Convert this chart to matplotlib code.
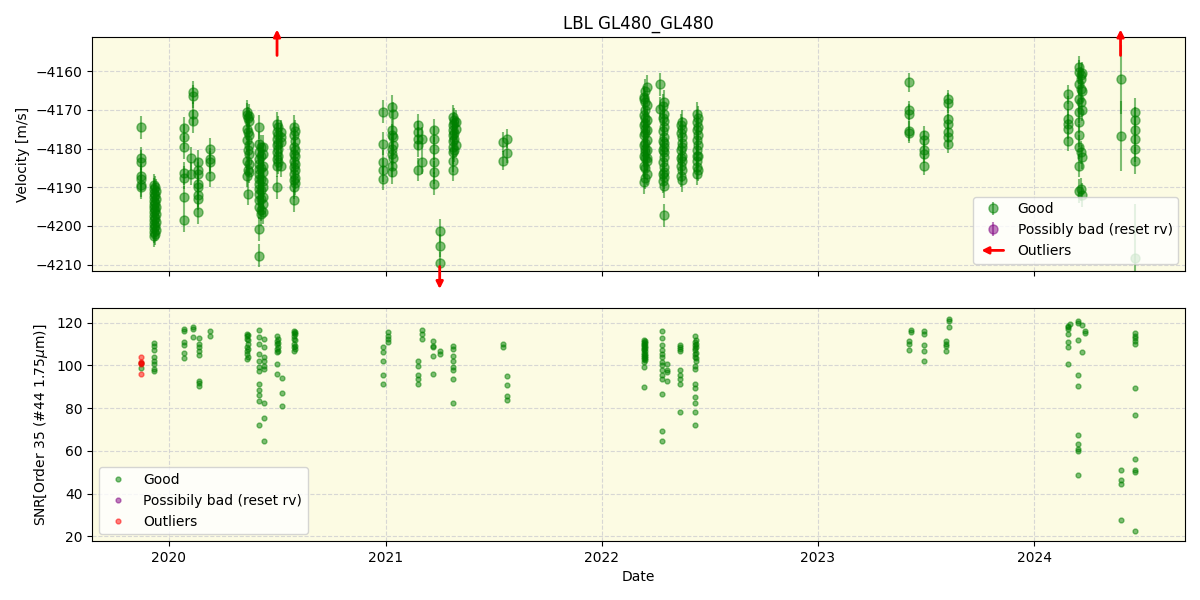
from datetime import datetime, timedelta
import matplotlib
matplotlib.use('Agg')
import matplotlib.pyplot as plt
import matplotlib.dates as mdates
from matplotlib.legend_handler import HandlerBase
from matplotlib.patches import FancyArrowPatch

# --- velocity data: one entry per group of nights (decimal year) ---
rv_epochs = [2019.87, 2019.93, 2019.94, 2019.935, 2020.07, 2020.10, 2020.11, 2020.135, 2020.19,
             2020.36, 2020.365, 2020.37, 2020.415, 2020.435, 2020.425, 2020.50, 2020.52, 2020.505,
             2020.58, 2020.585,
             2020.99, 2021.03, 2021.035, 2021.15, 2021.17, 2021.225, 2021.25, 2021.31, 2021.325,
             2021.315, 2021.545, 2021.56,
             2022.195, 2022.21, 2022.20, 2022.27, 2022.29, 2022.285, 2022.37, 2022.365,
             2022.44, 2022.445,
             2023.42, 2023.49, 2023.60,
             2024.155, 2024.21, 2024.22, 2024.215, 2024.40, 2024.465]
rv_values = [
    [-4174.5, -4182.5, -4183.5, -4187.0, -4188.0, -4189.5, -4190.0],
    [-4189.5, -4190.5, -4191.5, -4192.5, -4193.5, -4194.5, -4195.5, -4196.5, -4197.5,
     -4198.5, -4199.5, -4200.5, -4201.5, -4202.5],
    [-4191.0, -4193.0, -4195.0, -4197.0, -4199.0, -4201.0],
    [-4190.0, -4192.0, -4194.0, -4196.0, -4198.0, -4200.0, -4202.0],
    [-4174.8, -4177.0, -4179.7, -4186.4, -4187.5, -4192.6, -4198.6],
    [-4182.5, -4186.5],
    [-4165.4, -4166.5, -4171.0, -4173.0],
    [-4183.5, -4185.6, -4186.5, -4189.1, -4190.0, -4192.1, -4193.0, -4196.5],
    [-4180.2, -4182.8, -4183.6, -4187.0],
    [-4170.5, -4171.3, -4174.9, -4177.9, -4183.1, -4187.0],
    [-4172.2, -4175.8, -4180.5, -4185.6, -4191.7],
    [-4171.5, -4173.0, -4176.5, -4179.0, -4181.5, -4184.0, -4186.0],
    [-4174.4, -4178.7, -4180.9, -4182.6, -4183.9, -4185.2, -4186.5, -4187.8, -4189.1,
     -4190.4, -4191.7, -4193.4, -4195.2, -4200.8, -4207.7],
    [-4179.5, -4181.5, -4184.5, -4186.0, -4188.5, -4190.0, -4192.6, -4194.3, -4196.5],
    [-4179.5, -4182.0, -4185.0, -4188.0, -4190.8, -4193.0, -4195.8, -4197.0],
    [-4173.6, -4175.7, -4177.4, -4179.2, -4180.9, -4182.6, -4184.4, -4190.0],
    [-4175.7, -4177.0, -4178.3, -4184.4],
    [-4174.5, -4176.5, -4178.5, -4180.0, -4182.0, -4183.5],
    [-4174.4, -4176.6, -4179.6, -4181.3, -4183.1, -4184.8, -4186.5, -4188.2, -4190.0, -4193.4],
    [-4175.5, -4178.0, -4180.5, -4182.0, -4184.0, -4185.5, -4187.5, -4189.0],
    [-4170.5, -4178.7, -4183.5, -4185.6, -4187.8],
    [-4169.2, -4175.3, -4176.6, -4180.0, -4181.3, -4184.4, -4186.1],
    [-4171.0, -4177.0, -4179.0, -4182.5],
    [-4174.0, -4175.8, -4177.4, -4179.2, -4185.5],
    [-4177.4, -4183.5],
    [-4175.3, -4177.4, -4180.0, -4183.5, -4186.1, -4189.1],
    [-4201.2, -4205.1, -4209.7],
    [-4171.8, -4174.0, -4175.3, -4176.6, -4178.0, -4179.6, -4181.0, -4183.1, -4185.5],
    [-4173.1, -4174.9, -4179.2],
    [-4172.5, -4173.5, -4176.0, -4177.5, -4180.5],
    [-4178.3, -4183.1],
    [-4177.4, -4181.2],
    [-4167.3, -4171.4, -4174.0, -4176.6, -4179.2, -4181.8, -4184.4, -4188.7, -4166.7],
    [-4164.1, -4168.8, -4172.7, -4175.3, -4177.9, -4180.5, -4183.1, -4186.5, -4182.5],
    [-4165.0, -4168.0, -4170.0, -4172.0, -4173.5, -4175.0, -4176.0, -4178.5, -4180.0,
     -4181.0, -4182.5, -4185.0, -4187.5],
    [-4163.4, -4169.7],
    [-4167.9, -4171.0, -4173.0, -4174.4, -4177.0, -4178.5, -4179.6, -4181.0, -4182.2,
     -4184.8, -4186.0, -4187.4, -4189.8, -4197.3],
    [-4169.0, -4172.0, -4175.5, -4178.0, -4180.5, -4183.5, -4186.5, -4188.5],
    [-4173.1, -4174.9, -4177.0, -4178.5, -4179.6, -4181.8, -4183.1, -4185.6, -4188.2],
    [-4174.0, -4176.0, -4180.5, -4182.5, -4184.5, -4187.0],
    [-4171.0, -4173.1, -4175.3, -4177.9, -4180.5, -4181.8, -4183.1, -4184.8, -4186.5],
    [-4172.0, -4174.5, -4176.5, -4179.0, -4182.0, -4185.5],
    [-4162.9, -4170.1, -4171.0, -4175.5, -4176.0],
    [-4176.6, -4177.9, -4180.3, -4181.3, -4184.4],
    [-4167.3, -4168.2, -4172.3, -4173.6, -4175.7, -4177.0, -4178.7],
    [-4166.0, -4168.8, -4172.3, -4173.6, -4174.9, -4178.1],
    [-4159.0, -4160.2, -4163.2, -4167.1, -4170.5, -4173.1, -4176.6, -4179.6, -4184.4, -4191.0],
    [-4160.5, -4165.0, -4170.0, -4182.2, -4192.0],
    [-4161.0, -4162.0, -4164.5, -4168.0, -4181.0, -4190.5],
    [-4162.1, -4176.8],
    [-4170.5, -4172.7, -4175.3, -4177.4, -4180.0, -4183.2, -4208.3],
]
rv_errors = [3.0, 3.0, 3.0, 3.0, 3.0, 3.0, 3.0, 3.0, 3.0,
             3.0, 3.0, 3.0, 3.0, 3.0, 3.0, 3.0, 3.0, 3.0,
             3.0, 3.0,
             3.0, 3.0, 3.0, 3.0, 3.0, 3.0, 3.0, 3.0, 3.0,
             3.0, 2.5, 2.5,
             3.0, 3.0, 3.0, 3.0, 3.0, 3.0, 3.0, 3.0,
             3.0, 3.0,
             2.5, 2.5, 2.5,
             2.5, 3.0, 3.0, 3.0, 9.0, 3.5]
big_error_point = (2024.465, -4208.3, 14.0)

# outliers beyond the velocity axis range
out_epochs = [2020.50, 2021.25, 2024.40]
out_values = [-4140.0, -4225.0, -4140.0]

# --- SNR data ---
snr_epochs = [2019.87, 2019.93, 2020.07, 2020.11, 2020.14, 2020.19,
              2020.36, 2020.365, 2020.415, 2020.44, 2020.50, 2020.505, 2020.525, 2020.58, 2020.585,
              2020.99, 2021.01, 2021.15, 2021.17, 2021.22, 2021.25, 2021.31, 2021.545, 2021.56,
              2022.195, 2022.20, 2022.28, 2022.30, 2022.36, 2022.43, 2022.435,
              2023.42, 2023.43, 2023.49, 2023.59, 2023.605,
              2024.155, 2024.165, 2024.205, 2024.22, 2024.235, 2024.40, 2024.465]
snr_values = [
    [98.8, 101.0],
    [110.5, 109.2, 107.2, 103.8, 102.2, 100.7, 98.4, 97.3],
    [117.0, 116.0, 110.8, 109.3, 105.7, 103.5],
    [118.1, 117.0, 113.1],
    [112.8, 110.0, 108.8, 106.9, 105.0, 92.6, 91.6, 90.1],
    [116.3, 113.9],
    [114.7, 113.9, 112.4, 108.5, 106.9, 105.4, 103.0],
    [114.0, 112.0, 110.0, 107.5, 104.0],
    [116.6, 113.1, 110.0, 105.4, 102.2, 99.1, 97.3, 91.3, 88.5, 86.2, 83.2, 71.9],
    [112.4, 108.5, 103.8, 102.2, 99.9, 98.4, 82.4, 75.4, 64.8],
    [113.5, 111.6, 110.0, 107.7, 106.1, 100.4, 96.0],
    [112.5, 110.5, 108.5, 106.5],
    [94.2, 87.0, 81.2],
    [116.3, 115.0, 113.9, 112.4, 110.0, 108.5, 106.9],
    [115.5, 114.5, 112.0, 109.0, 107.5],
    [108.5, 106.1, 102.2, 95.7, 91.3],
    [115.5, 113.9, 112.4, 110.8],
    [102.2, 99.9, 95.6, 93.7, 91.3],
    [116.6, 114.7, 112.4],
    [111.6, 109.2, 108.5, 104.6, 96.0],
    [106.9, 105.4],
    [109.2, 107.7, 104.6, 102.2, 99.1, 97.6, 93.4, 82.6],
    [110.0, 108.5],
    [94.9, 90.7, 85.5, 83.9],
    [112.0, 111.0, 110.0, 109.3, 108.5, 107.5, 107.0, 106.0, 105.0, 104.0, 103.0, 101.5, 99.4, 90.0],
    [111.5, 110.5, 109.0, 108.0, 106.5, 105.5, 104.5, 103.5, 102.5],
    [116.3, 113.0, 109.7, 107.0, 105.5, 104.0, 101.5, 100.0, 97.6, 95.5, 93.7, 86.7, 69.5, 64.4],
    [100.5, 98.0, 96.8, 92.9],
    [109.3, 108.5, 107.5, 106.5, 97.6, 95.5, 93.8, 91.5, 78.1],
    [113.9, 111.0, 109.5, 108.0, 107.0, 105.5, 104.0, 99.9, 98.4, 91.4, 89.5, 85.1, 82.5, 78.1, 72.2],
    [112.0, 110.0, 108.5, 106.0, 103.5, 102.0],
    [111.3, 110.0, 107.2],
    [116.6, 115.5],
    [115.9, 114.7, 109.3, 106.9, 102.2],
    [111.6, 110.0, 109.0, 106.6],
    [121.7, 120.6, 118.1],
    [118.6, 117.8, 117.0, 114.7, 110.8, 108.8, 100.4],
    [119.4],
    [120.9, 119.7, 111.9, 95.7, 90.1, 67.2, 63.3, 61.0, 59.9, 48.5],
    [119.1, 106.4],
    [115.9, 115.2],
    [51.2, 46.5, 44.3, 27.5],
    [115.0, 113.9, 112.8, 111.6, 110.0, 89.5, 76.9, 56.4, 51.2, 50.1, 22.3],
]
snr_out_epochs = [2019.87, 2019.87, 2019.87, 2019.87, 2019.87]
snr_out_values = [103.8, 101.5, 101.0, 100.7, 96.0]


def to_date(y):
    year = int(y)
    return datetime(year, 1, 1) + timedelta(days=(y - year) * 365.25)


def flatten(epochs, groups):
    xs, ys = [], []
    for ep, vals in zip(epochs, groups):
        for v in vals:
            xs.append(to_date(ep))
            ys.append(v)
    return xs, ys


class ArrowHandler(HandlerBase):
    def create_artists(self, legend, orig_handle, xdescent, ydescent, width, height, fontsize, trans):
        arrow = FancyArrowPatch((width, height / 2), (0, height / 2), arrowstyle='-|>',
                                mutation_scale=10, color='red', lw=2, transform=trans)
        return [arrow]


rv_x, rv_y = [], []
rv_e = []
for ep, vals, err in zip(rv_epochs, rv_values, rv_errors):
    for v in vals:
        if (ep, v) == big_error_point[:2]:
            continue
        rv_x.append(to_date(ep))
        rv_y.append(v)
        rv_e.append(err)

snr_x, snr_y = flatten(snr_epochs, snr_values)

bg = '#fcfbe3'
fig, (ax1, ax2) = plt.subplots(2, 1, sharex=True, figsize=(12, 6))
fig.subplots_adjust(left=0.0767, right=0.9875, top=0.938, bottom=0.098, hspace=0.158)

ax1.set_facecolor(bg)
ax1.errorbar(rv_x, rv_y, yerr=rv_e, fmt='o', color='green', alpha=0.5, ms=6.5, label='Good')
ax1.errorbar([to_date(big_error_point[0])], [big_error_point[1]], yerr=[big_error_point[2]],
             fmt='o', color='green', alpha=0.5, ms=6.5)
ax1.errorbar([], [], yerr=[], fmt='o', color='purple', alpha=0.5, ms=6.5,
             label='Possibly bad (reset rv)')
ylo, yhi = -4211.6, -4151.2
ax1.set_ylim(ylo, yhi)
for ep, v in zip(out_epochs, out_values):
    xn = mdates.date2num(to_date(ep))
    if v > yhi:
        start, end = 0.91, 1.045
    else:
        start, end = 0.03, -0.09
    ax1.annotate('', xy=(xn, end), xytext=(xn, start), xycoords=('data', 'axes fraction'),
                 arrowprops=dict(arrowstyle='-|>', color='red', lw=2, mutation_scale=10),
                 annotation_clip=False)
outlier_proxy = FancyArrowPatch((0, 0), (1, 0))
handles, labels = ax1.get_legend_handles_labels()
handles.append(outlier_proxy)
labels.append('Outliers')
ax1.legend(handles, labels, loc='lower right', handler_map={FancyArrowPatch: ArrowHandler()})
ax1.set_ylabel('Velocity [m/s]')
ax1.set_title('LBL GL480_GL480')
ax1.grid(True, linestyle='--', color='lightgrey', alpha=0.9)

ax2.set_facecolor(bg)
ax2.plot(snr_x, snr_y, 'o', color='green', alpha=0.5, ms=3.5, label='Good')
ax2.plot([], [], 'o', color='purple', alpha=0.5, ms=3.5, label='Possibily bad (reset rv)')
ax2.plot([to_date(e) for e in snr_out_epochs], snr_out_values, 'o', color='red', alpha=0.5,
         ms=3.5, label='Outliers')
ax2.set_ylim(17.7, 127)
ax2.set_ylabel(r'SNR[Order 35 (#44 1.75$\mu$m)]')
ax2.set_xlabel('Date')
ax2.legend(loc='lower left')
ax2.grid(True, linestyle='--', color='lightgrey', alpha=0.9)

ax2.set_xlim(to_date(2019.644), to_date(2024.698))
ax2.xaxis.set_major_locator(mdates.YearLocator())
ax2.xaxis.set_major_formatter(mdates.DateFormatter('%Y'))

fig.savefig('out.png', dpi=100)
